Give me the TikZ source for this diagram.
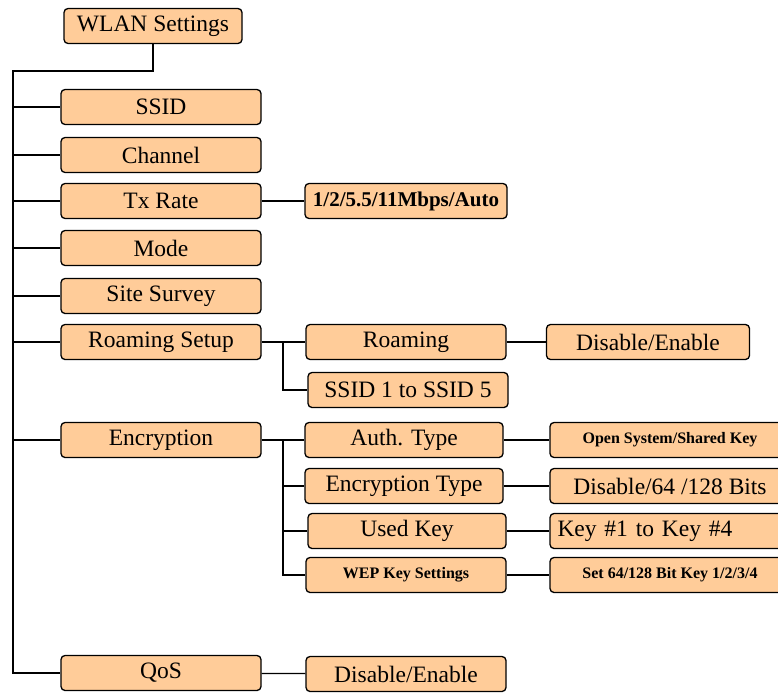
\documentclass[tikz,border=0pt]{standalone}
\usepackage{fontspec}
\setmainfont{Liberation Serif}
\definecolor{peach}{RGB}{255,204,153}
\tikzstyle{menu} = [rectangle,draw,rounded corners=4pt,line width=1.3pt,fill=peach,minimum height=35pt,minimum width=200pt,inner sep=0pt,font=\fontsize{23.5}{23.5}\selectfont]
\tikzstyle{wide} = [menu,minimum width=240pt]
\tikzstyle{small} = [font=\bfseries\fontsize{16}{16}\selectfont]
\tikzstyle{link} = [line width=1.3pt]

\begin{document}
\begin{tikzpicture}[x=1pt,y=-1pt]
	\useasboundingbox (0,0) rectangle (778,693);
	\node[menu,minimum width=178pt] (W) at (153,26) {WLAN Settings};
	\node[menu] (ssid) at (161,107) {SSID};
	\node[menu] (channel) at (161,155) {Channel};
	\node[menu] (tx) at (161,201) {Tx Rate};
	\node[menu] (mode) at (161,248) {Mode};
	\node[menu] (survey) at (161,296) {Site Survey};
	\node[menu] (roamset) at (161,342) {Roaming Setup};
	\node[menu] (enc) at (161,440) {Encryption};
	\node[menu] (qos) at (161,673) {QoS};
	\node[menu,font=\bfseries\fontsize{21}{21}\selectfont,minimum width=202pt] (txopt) at (406,201) {1/2/5.5/11Mbps/Auto};
	\node[menu] (roaming) at (406,342) {Roaming};
	\node[menu] (ssid15) at (408,390) {SSID 1 to SSID 5};
	\node[menu,minimum width=198pt] (auth) at (404,440) {Auth. Type};
	\node[menu,minimum width=198pt] (enctype) at (404,486) {Encryption Type};
	\node[menu,minimum width=198pt] (usedkey) at (407,531) {Used Key};
	\node[menu,small] (wep) at (406,575) {WEP Key Settings};
	\node[menu] (qosopt) at (406,674) {Disable/Enable};
	\node[menu,minimum width=203pt] (roamopt) at (648,342) {Disable/Enable};
	\node[wide,small] (authopt) at (670,440) {Open System/Shared Key};
	\node[wide] (bitsopt) at (670,486) {Disable/64 /128 Bits};
	\node[wide,text width=225pt,align=left] (keyopt) at (670,531) {Key \#1 to Key \#4};
	\node[wide,small] (setkey) at (670,575) {Set 64/128 Bit Key 1/2/3/4};
	\coordinate (top) at (13,71);
	\coordinate (rb) at (283,342);
	\coordinate (eb) at (283,440);
	\draw[link] (W.south) -- (W.south |- top) -- (top) |- (qos);
	\foreach \n in {ssid,channel,tx,mode,survey,roamset,enc}
	{\draw[link] (top |- \n) -- (\n);}
	\draw[link] (tx) -- (txopt);
	\draw[link] (roamset) -- (roaming);
	\draw[link] (rb) |- (ssid15);
	\draw[link] (roaming) -- (roamopt);
	\draw[link] (enc) -- (auth);
	\draw[link] (eb) |- (wep);
	\foreach \n in {enctype,usedkey}
	{\draw[link] (eb |- \n) -- (\n);}
	\draw[link] (auth) -- (authopt);
	\draw[link] (enctype) -- (bitsopt);
	\draw[link] (usedkey) -- (keyopt);
	\draw[link] (wep) -- (setkey);
	\draw[link] (qos) -- (qosopt);
\end{tikzpicture}
\end{document}
